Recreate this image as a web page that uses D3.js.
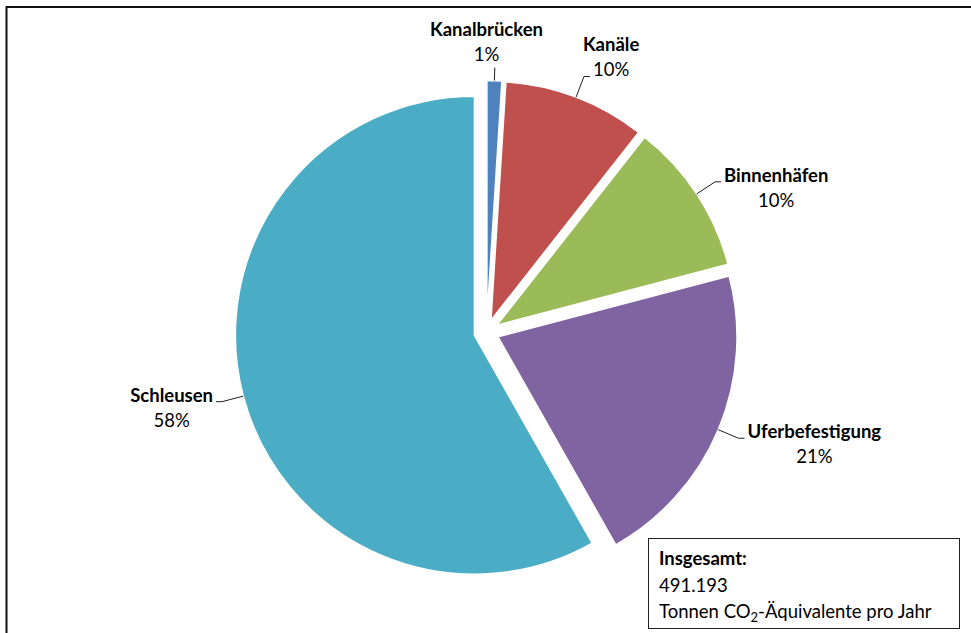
<!DOCTYPE html>
<html>
<head>
<meta charset="utf-8">
<script src="https://cdn.jsdelivr.net/npm/d3@7"></script>
<style>
    body { margin: 0; background: #fff; }
    #chart1 { width: 971px; height: 633px; }
    text { font-family: Lato, "Open Sans", sans-serif; fill: #000; }
    .name { font-weight: bold; }
</style>
</head>
<body>
<div id="chart1"></div>
<script>

// DATA (shares in percent)

const categories = ["Kanalbrücken", "Kanäle", "Binnenhäfen", "Uferbefestigung", "Schleusen"];
const shares = [1.0, 9.6, 10.3, 20.9, 58.2];
const colors = ["#4F81BD", "#C0504D", "#9BBB59", "#8064A2", "#4BACC6"];
const totalLabel = ["Insgesamt:", "491.193", "Tonnen CO", "2", "-Äquivalente pro Jahr"];

const chartwidth = 971;
const chartheight = 633;

const cx = 486.5, cy = 332;
const radius = 239;
const explode = 12.5;
const labelSize = "18.5px";

const svg = d3.select("#chart1")
    .append("svg")
    .attr("width", chartwidth)
    .attr("height", chartheight);

// FRAME (right and bottom edges run off the picture)

svg.append("rect")
    .attr("x", 6.5)
    .attr("y", 7)
    .attr("width", chartwidth + 20)
    .attr("height", chartheight + 20)
    .attr("fill", "none")
    .attr("stroke", "#111")
    .attr("stroke-width", 2);

// PIE

const table = categories.map(function(c, i) {
    return {name: c, value: shares[i], color: colors[i]};
});
const total = d3.sum(shares);

const pie = d3.pie()
    .sort(null)
    .value(function(d) { return d.value; });

const arc = d3.arc()
    .innerRadius(0)
    .outerRadius(radius);

const arcs = pie(table);

function dir(d) {
    const mid = (d.startAngle + d.endAngle) / 2;
    return [Math.sin(mid), -Math.cos(mid)];
}

const g = svg.append("g")
    .attr("transform", `translate(${cx},${cy})`);

g.selectAll("path")
    .data(arcs)
    .enter()
    .append("path")
        .attr("d", arc)
        .attr("transform", function(d) {
            const v = dir(d);
            return `translate(${v[0] * explode},${v[1] * explode})`;
        })
        .attr("fill", function(d) { return d.data.color; })
        .attr("stroke", "#fff")
        .attr("stroke-width", 1.5);

// LABELS + LEADER LINES

const lineGap = 25;

arcs.forEach(function(d) {
    const v = dir(d);
    const ax = cx + v[0] * explode, ay = cy + v[1] * explode;
    const p0 = [ax + v[0] * radius, ay + v[1] * radius];
    const pctText = Math.round(d.data.value / total * 100) + "%";

    if (Math.abs(v[0]) < 0.1) {
        // slice at the top: straight line up, label centered over it
        const p1 = [ax + v[0] * (radius + 13), ay + v[1] * (radius + 13)];
        svg.append("path")
            .attr("d", d3.line()([p0, p1]))
            .attr("stroke", "#222")
            .attr("fill", "none");
        svg.append("text").attr("class", "name")
            .attr("x", cx).attr("y", p1[1] - 7 - lineGap)
            .attr("text-anchor", "middle").style("font-size", labelSize)
            .text(d.data.name);
        svg.append("text")
            .attr("x", cx).attr("y", p1[1] - 7)
            .attr("text-anchor", "middle").style("font-size", labelSize)
            .text(pctText);
        return;
    }

    const right = v[0] > 0;
    const p1 = [ax + v[0] * (radius + 22), ay + v[1] * (radius + 22)];
    const p2 = [p1[0] + (right ? 6 : -6), p1[1]];

    svg.append("path")
        .attr("d", d3.line()([p0, p1, p2]))
        .attr("stroke", "#222")
        .attr("fill", "none");

    // near the top the leader meets the percent line, otherwise the name line
    const upper = -v[1] > 0.8;
    const nameY = upper ? p2[1] - lineGap : p2[1];

    const name = svg.append("text").attr("class", "name")
        .attr("y", nameY).style("font-size", labelSize)
        .text(d.data.name);
    const pct = svg.append("text")
        .attr("y", nameY + lineGap).style("font-size", labelSize)
        .text(pctText);

    const attached = upper ? pct : name;
    const w = attached.node().getComputedTextLength();
    const mx = right ? p2[0] + 3 + w / 2 : p2[0] - 3 - w / 2;

    name.attr("x", mx).attr("text-anchor", "middle");
    pct.attr("x", mx).attr("text-anchor", "middle");
});

// TOTAL BOX

svg.append("rect")
    .attr("x", 648.5)
    .attr("y", 538.5)
    .attr("width", 311)
    .attr("height", 90)
    .attr("fill", "#fff")
    .attr("stroke", "#222")
    .attr("stroke-width", 1);

svg.append("text").attr("class", "name")
    .attr("x", 659).attr("y", 565)
    .style("font-size", "18.5px")
    .text(totalLabel[0]);

svg.append("text")
    .attr("x", 659).attr("y", 592)
    .style("font-size", "18.5px")
    .text(totalLabel[1]);

const unit = svg.append("text")
    .attr("x", 659).attr("y", 618)
    .style("font-size", "18.5px");
unit.append("tspan").text(totalLabel[2]);
unit.append("tspan").attr("dy", 4).style("font-size", "13px").text(totalLabel[3]);
unit.append("tspan").attr("dy", -4).text(totalLabel[4]);

</script>
</body>
</html>
